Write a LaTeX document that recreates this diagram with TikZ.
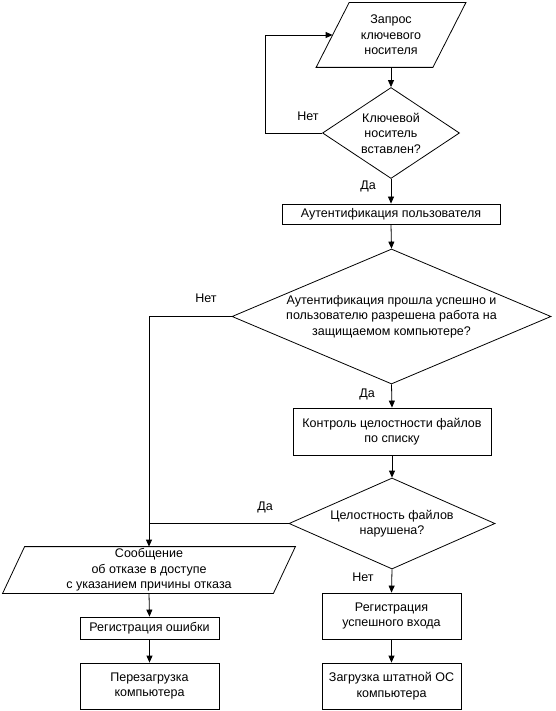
\documentclass[tikz,border=0pt]{standalone}
\usepackage{fontspec}
\setmainfont{Liberation Sans}
\usetikzlibrary{shapes.geometric,arrows.meta}
\begin{document}
\begin{tikzpicture}[x=1pt,y=-1pt,
  line width=0.8pt,
  every node/.style={font=\fontsize{12.5}{15.5}\selectfont, align=center},
  box/.style={draw, rectangle, inner sep=0pt, minimum width=#1},
  plain/.style={rectangle, inner sep=0pt},
  dia/.style={draw, diamond, inner sep=0pt},
  arr/.style={-{Triangle[length=7pt,width=6pt]}},
  lbl/.style={inner sep=0pt}
]
\useasboundingbox (0,0) rectangle (555,711);

% parallelogram 1
\node[plain, minimum width=116pt, minimum height=64pt] (q1) at (391,35) {Запрос\\ключевого\\носителя};
\draw ([xshift=16.5pt]q1.north west) -- ([xshift=16.5pt]q1.north east) -- ([xshift=-16.5pt]q1.south east) -- ([xshift=-16.5pt]q1.south west) -- cycle;

% diamond 1
\node[dia, minimum width=137pt, minimum height=91pt] (d1) at (391,133) {};
\node[lbl] (d1t) at (391,133) {Ключевой\\носитель\\вставлен?};

% box 1
\node[box=218pt, minimum height=20pt] (b1) at (391,214) {Аутентификация пользователя};

% diamond 2
\node[dia, minimum width=319pt, minimum height=135pt] (d2) at (391.5,316.5) {};
\node[lbl] (d2t) at (391.5,316.5) {Аутентификация прошла успешно и\\пользователю разрешена работа на\\защищаемом компьютере?};

% box 2
\node[box=198pt, minimum height=47pt] (b2) at (392,431.5) {Контроль целостности файлов\\по списку};

% diamond 3
\node[dia, minimum width=206pt, minimum height=91pt] (d3) at (392,523.5) {};
\node[lbl] (d3t) at (392,523.5) {Целостность файлов\\нарушена?};

% parallelogram 2
\node[plain, minimum width=270pt, minimum height=46pt] (q2) at (149,570) {Сообщение\\об отказе в доступе\\с указанием причины отказа};
\draw ([xshift=11pt]q2.north west) -- ([xshift=11pt]q2.north east) -- ([xshift=-11pt]q2.south east) -- ([xshift=-11pt]q2.south west) -- cycle;

% left boxes
\node[box=139pt, minimum height=22pt] (b3) at (149.5,628) {Регистрация ошибки};
\node[box=139pt, minimum height=46pt] (b4) at (149.5,686) {Перезагрузка\\компьютера};

% right boxes
\node[box=139pt, minimum height=46pt] (b5) at (391.5,616) {Регистрация\\успешного входа};
\node[box=139pt, minimum height=46pt] (b6) at (391.5,686) {Загрузка штатной ОС\\компьютера};

% helper coordinates
\coordinate (c1) at (265,133);
\coordinate (c2) at (265,35);
\coordinate (c3) at (149,316.5);
\coordinate (c4) at (149,523.5);

% connectors
\draw[arr] (q1.south) -- (d1.north);
\draw[arr] (d1.west) -- (c1) -- (c2) -- (q1.west);
\draw[arr] (d1.south) -- (b1.north);
\draw[arr] (b1.south) -- (d2.north);
\draw[arr] (d2.west) -- (c3) -- (q2.north);
\draw[arr] (d2.south) -- (b2.north);
\draw[arr] (b2.south) -- (d3.north);
\draw (d3.west) -- (c4);
\draw[arr] (d3.south) -- (b5.north);
\draw[arr] (b5.south) -- (b6.north);
\draw[arr] (q2.south) -- (b3.north);
\draw[arr] (b3.south) -- (b4.north);

% branch labels
\node[lbl] (l1) at (308,116) {Нет};
\node[lbl] (l2) at (368,186) {Да};
\node[lbl] (l3) at (206,298) {Нет};
\node[lbl] (l4) at (367,394) {Да};
\node[lbl] (l5) at (265,507) {Да};
\node[lbl] (l6) at (363,577) {Нет};
\end{tikzpicture}
\end{document}
